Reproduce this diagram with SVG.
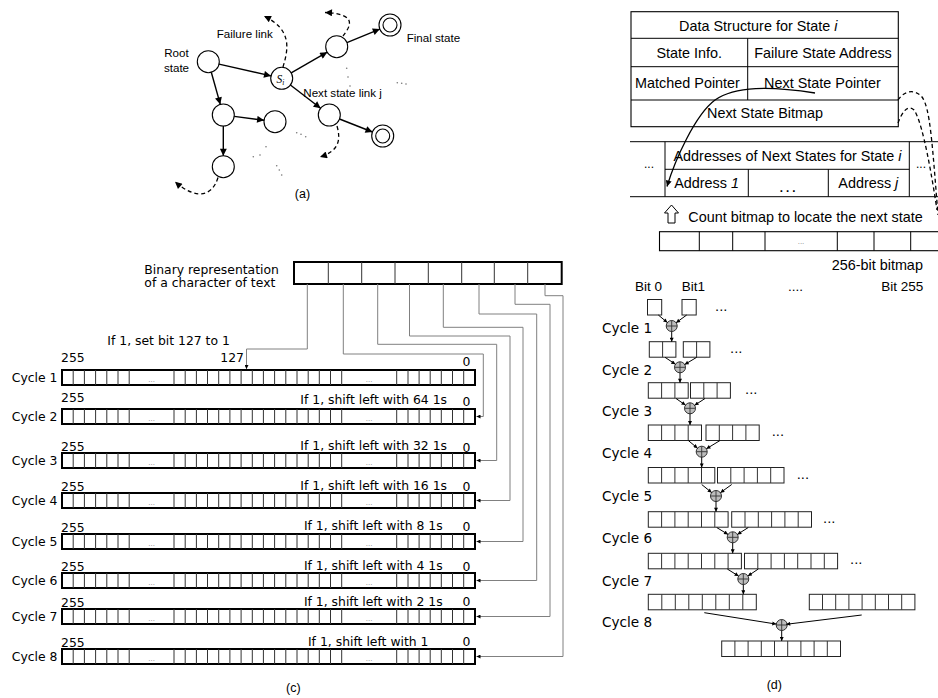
<svg xmlns="http://www.w3.org/2000/svg" width="938" height="698" viewBox="0 0 938 698">
<style>
.sans{font-family:"Liberation Sans",Arial,sans-serif;fill:#000}
.dv{font-family:"DejaVu Sans",Verdana,sans-serif;fill:#000}
.a{font-size:11.6px}
.b{font-size:14.4px}
.c{font-size:12.4px}
.d{font-size:13.6px}
.bit{font-size:13.5px}
.dots{font-family:"DejaVu Sans",sans-serif;font-size:7px;fill:#888}
.st{fill:none;stroke:#000;stroke-width:1.4}
.ds{fill:none;stroke:#000;stroke-width:1.3;stroke-dasharray:4 3}
.node{fill:#fff;stroke:#000;stroke-width:1.1}
.wire{fill:none;stroke:#808080;stroke-width:1}
.div{stroke:#333;stroke-width:1;fill:none}
.cell{fill:#fff;stroke:#222;stroke-width:1}
.thin{fill:none;stroke:#000;stroke-width:1}
.dot{fill:#777}
</style>
<defs>
<marker id="arrA" viewBox="0 0 10 10" refX="10" refY="5" markerWidth="9" markerHeight="7" markerUnits="userSpaceOnUse" orient="auto"><path d="M0,0L10,5L0,10z" fill="#000"/></marker>
<marker id="arrB" viewBox="0 0 10 10" refX="10" refY="5" markerWidth="8" markerHeight="6" markerUnits="userSpaceOnUse" orient="auto"><path d="M0,0L10,5L0,10z" fill="#000"/></marker>
<marker id="arrS" viewBox="0 0 10 10" refX="10" refY="5" markerWidth="5" markerHeight="4" markerUnits="userSpaceOnUse" orient="auto"><path d="M0,0L10,5L0,10z" fill="#000"/></marker>
<g id="bar">
<rect x="62" y="0" width="413" height="15" fill="#fff" stroke="#000" stroke-width="2"/>
<path class="div" d="M73.2 0v15M84.4 0v15M95.6 0v15M106.8 0v15M118 0v15M129.2 0v15M174 0v15M185.2 0v15M196.4 0v15M207.5 0v15M218.7 0v15M229.9 0v15M241.1 0v15M252.3 0v15M263.4 0v15M274.6 0v15M285.8 0v15M297 0v15M308.2 0v15M319.3 0v15M330.5 0v15M341.7 0v15M396.7 0v15M408 0v15M419.1 0v15M430.2 0v15M441.3 0v15M452.5 0v15M463.7 0v15"/>
</g>
<g id="xor"><circle r="5.5" fill="#bdbdbd" stroke="#333" stroke-width="1"/><path d="M-5.5 0H5.5M0 -5.5V5.5" stroke="#333" stroke-width="0.9"/></g>
</defs>
<rect width="938" height="698" fill="#fff"/>

<!-- ========== (a) ========== -->
<g id="panel-a">
<g id="a-root"><circle class="node" cx="208.3" cy="61.7" r="11"/></g>
<g id="a-si"><circle class="node" cx="281.7" cy="78.3" r="11"/><text x="276.5" y="82.5" style="font-family:'Liberation Serif','Times New Roman',serif;font-style:italic;font-size:11.5px">S<tspan font-size="7.5" dy="2">i</tspan></text></g>
<g id="a-ur"><circle class="node" cx="336.7" cy="46.7" r="11"/></g>
<g id="a-finaltop"><circle class="node" cx="390" cy="25" r="11"/><circle class="node" cx="390" cy="25" r="7"/></g>
<g id="a-nj"><circle class="node" cx="329.3" cy="115" r="11"/></g>
<g id="a-finalbot"><circle class="node" cx="382.7" cy="136" r="11"/><circle class="node" cx="382.7" cy="136" r="7"/></g>
<g id="a-lm"><circle class="node" cx="223.3" cy="115" r="11"/></g>
<g id="a-r2"><circle class="node" cx="275" cy="121.7" r="11"/></g>
<g id="a-bl"><circle class="node" cx="223.3" cy="166.7" r="11"/></g>
<g id="a-connectors">
<path class="st" d="M219 64.1L271 75.9" marker-end="url(#arrA)"/>
<path class="st" d="M291.2 72.8L327.2 52.2" marker-end="url(#arrA)"/>
<path class="st" d="M346.9 42.6L379.8 29.1" marker-end="url(#arrA)"/>
<path class="st" d="M290.4 85L320.6 108.3" marker-end="url(#arrA)"/>
<path class="st" d="M339.5 119L372.5 132" marker-end="url(#arrA)"/>
<path class="st" d="M211.3 72.3L220.3 104.4" marker-end="url(#arrA)"/>
<path class="st" d="M234.2 116.4L264.1 120.3" marker-end="url(#arrA)"/>
<path class="st" d="M223.3 126L223.3 155.7" marker-end="url(#arrA)"/>
<path class="ds" d="M283 67C288 50 293 30 264 16" marker-end="url(#arrA)"/>
<path class="ds" d="M343 36C349 28 360 14 325 12.5" marker-end="url(#arrA)"/>
<path class="ds" d="M337 126C341 140 339 151 320 157" marker-end="url(#arrA)"/>
<path class="ds" d="M218 177.5C212 197 196 200 175 181.7" marker-end="url(#arrA)"/>
</g>
<g id="a-dots">
<circle class="dot" cx="346.7" cy="68.3" r="0.8"/><circle class="dot" cx="348" cy="77" r="0.8"/><circle class="dot" cx="350" cy="86" r="0.8"/>
<circle class="dot" cx="397.3" cy="82.7" r="0.8"/><circle class="dot" cx="401.7" cy="83.3" r="0.8"/><circle class="dot" cx="406" cy="84" r="0.8"/>
<circle class="dot" cx="296.7" cy="132.7" r="0.8"/><circle class="dot" cx="301" cy="134.3" r="0.8"/><circle class="dot" cx="305.7" cy="136.7" r="0.8"/>
<circle class="dot" cx="253.3" cy="156.7" r="0.8"/><circle class="dot" cx="260" cy="155" r="0.8"/><circle class="dot" cx="266" cy="146.7" r="0.8"/>
<circle class="dot" cx="276.7" cy="165.7" r="0.8"/><circle class="dot" cx="279.3" cy="170" r="0.8"/><circle class="dot" cx="281.7" cy="175" r="0.8"/>
</g>
<text class="sans a" x="176.5" y="57" text-anchor="middle">Root</text>
<text class="sans a" x="176.5" y="71.5" text-anchor="middle">state</text>
<text class="sans a" x="216.7" y="38">Failure link</text>
<text class="sans a" x="406.7" y="41.5">Final state</text>
<text class="sans a" x="303.3" y="97">Next state link j</text>
<text class="sans" font-size="12.5" x="302.5" y="198" text-anchor="middle">(a)</text>
</g>

<!-- ========== (b) ========== -->
<g id="panel-b">
<g id="b-struct">
<rect x="631" y="11.7" width="267.3" height="115" fill="#fff" stroke="#000" stroke-width="1.1"/>
<path class="thin" d="M631 38.3H898.3M631 66.7H898.3M631 100H898.3M747.7 38.3V100"/>
<text class="sans b" x="758.3" y="30.5" text-anchor="middle">Data Structure for State <tspan font-style="italic">i</tspan></text>
<text class="sans b" x="689.3" y="57.5" text-anchor="middle">State Info.</text>
<text class="sans b" x="823" y="57.5" text-anchor="middle">Failure State Address</text>
<text class="sans b" x="687.5" y="88.3" text-anchor="middle">Matched Pointer</text>
<text class="sans b" x="822.5" y="88.3" text-anchor="middle">Next State Pointer</text>
<text class="sans b" x="765" y="118.3" text-anchor="middle">Next State Bitmap</text>
</g>
<g id="b-addresses">
<path class="thin" d="M630 141.7H938M630 196.7H938M665 141.7V196.7M909.3 141.7V196.7M665 169.3H909.3M748.3 169.3V196.7M828.3 169.3V196.7"/>
<text class="sans" font-size="12" x="649" y="168" text-anchor="middle">...</text>
<text class="sans" font-size="12" x="921" y="168" text-anchor="middle">...</text>
<text class="sans b" x="787.5" y="160.5" text-anchor="middle">Addresses of Next States for State <tspan font-style="italic">i</tspan></text>
<text class="sans b" x="706.6" y="188" text-anchor="middle">Address <tspan font-style="italic">1</tspan></text>
<text class="sans" font-size="17" letter-spacing="1.5" x="788.3" y="191.5" text-anchor="middle">...</text>
<text class="sans b" x="868.3" y="188" text-anchor="middle">Address <tspan font-style="italic">j</tspan></text>
</g>
<g id="b-count">
<polygon points="668,223 668,213 664.5,213 671.5,205 678.5,213 675,213 675,223" fill="#fff" stroke="#000" stroke-width="1"/>
<text class="sans b" x="688.3" y="221.7">Count bitmap to locate the next state</text>
</g>
<g id="b-bitmap">
<rect x="659.5" y="231.7" width="290" height="19" fill="#fff" stroke="#000" stroke-width="1.1"/>
<path class="thin" d="M699.3 231.7V250.7M732.7 231.7V250.7M765 231.7V250.7M837.3 231.7V250.7M874 231.7V250.7M910.7 231.7V250.7"/>
<text class="dots" x="801" y="244" text-anchor="middle">...</text>
<text class="sans b" x="831.7" y="269.5">256-bit bitmap</text>
</g>
<g id="b-connectors">
<path fill="none" stroke="#000" stroke-width="1.3" d="M815 93C770 86 735 86 715 100C695 115 675 160 667 186.5" marker-end="url(#arrB)"/>
<path class="ds" stroke-width="1.1" d="M898 100C905 90 915 89 922 97C930 108 932 140 938 215"/>
<path class="ds" stroke-width="1.1" d="M898 123C902 112 908 104 914 110C920 118 928 150 937 210"/>
</g>
</g>

<!-- ========== (c) ========== -->
<g id="panel-c">
<g id="c-byte">
<rect x="294" y="262" width="267.7" height="22" fill="#fff" stroke="#000" stroke-width="2"/>
<path class="div" stroke="#666" d="M328.3 262V284M361.7 262V284M395 262V284M428.3 262V284M461.7 262V284M494.3 262V284M527.7 262V284"/>
<text class="dv c" x="144.3" y="273.5">Binary representation</text>
<text class="dv c" x="144.3" y="287">of a character of text</text>
</g>
<g id="c-cycle1"><use href="#bar" y="370"/><text class="dots" x="151.6" y="381.5" text-anchor="middle">...</text><text class="dots" x="369.2" y="381.5" text-anchor="middle">...</text>
<text class="dv c" x="57.5" y="382" text-anchor="end">Cycle 1</text><text class="dv c" x="61" y="361.5">255</text><text class="dv c" x="466.5" y="366" text-anchor="middle">0</text>
<text class="dv c" x="107.3" y="344.5">If 1, set bit 127 to 1</text><text class="dv c" x="244" y="361.7" text-anchor="end">127</text></g>
<g id="c-cycle2"><use href="#bar" y="409"/><text class="dots" x="151.6" y="420.5" text-anchor="middle">...</text><text class="dots" x="369.2" y="420.5" text-anchor="middle">...</text>
<text class="dv c" x="57.5" y="421" text-anchor="end">Cycle 2</text><text class="dv c" x="61" y="402">255</text><text class="dv c" x="466.5" y="405.5" text-anchor="middle">0</text>
<text class="dv c" x="447" y="404" text-anchor="end">If 1, shift left with 64 1s</text></g>
<g id="c-cycle3"><use href="#bar" y="453"/><text class="dots" x="151.6" y="464.5" text-anchor="middle">...</text><text class="dots" x="369.2" y="464.5" text-anchor="middle">...</text>
<text class="dv c" x="57.5" y="465" text-anchor="end">Cycle 3</text><text class="dv c" x="61" y="450.5">255</text><text class="dv c" x="466.5" y="451.5" text-anchor="middle">0</text>
<text class="dv c" x="447" y="450" text-anchor="end">If 1, shift left with 32 1s</text></g>
<g id="c-cycle4"><use href="#bar" y="493"/><text class="dots" x="151.6" y="504.5" text-anchor="middle">...</text><text class="dots" x="369.2" y="504.5" text-anchor="middle">...</text>
<text class="dv c" x="57.5" y="505" text-anchor="end">Cycle 4</text><text class="dv c" x="61" y="490.5">255</text><text class="dv c" x="466.5" y="491" text-anchor="middle">0</text>
<text class="dv c" x="447" y="489.5" text-anchor="end">If 1, shift left with 16 1s</text></g>
<g id="c-cycle5"><use href="#bar" y="534"/><text class="dots" x="151.6" y="545.5" text-anchor="middle">...</text><text class="dots" x="369.2" y="545.5" text-anchor="middle">...</text>
<text class="dv c" x="57.5" y="546" text-anchor="end">Cycle 5</text><text class="dv c" x="61" y="532">255</text><text class="dv c" x="466.5" y="531" text-anchor="middle">0</text>
<text class="dv c" x="442.7" y="530" text-anchor="end">If 1, shift left with 8 1s</text></g>
<g id="c-cycle6"><use href="#bar" y="573"/><text class="dots" x="151.6" y="584.5" text-anchor="middle">...</text><text class="dots" x="369.2" y="584.5" text-anchor="middle">...</text>
<text class="dv c" x="57.5" y="585" text-anchor="end">Cycle 6</text><text class="dv c" x="61" y="570.5">255</text><text class="dv c" x="466.5" y="570.5" text-anchor="middle">0</text>
<text class="dv c" x="442.7" y="570" text-anchor="end">If 1, shift left with 4 1s</text></g>
<g id="c-cycle7"><use href="#bar" y="609"/><text class="dots" x="151.6" y="620.5" text-anchor="middle">...</text><text class="dots" x="369.2" y="620.5" text-anchor="middle">...</text>
<text class="dv c" x="57.5" y="621" text-anchor="end">Cycle 7</text><text class="dv c" x="61" y="606.5">255</text><text class="dv c" x="466.5" y="606" text-anchor="middle">0</text>
<text class="dv c" x="442.7" y="605.5" text-anchor="end">If 1, shift left with 2 1s</text></g>
<g id="c-cycle8"><use href="#bar" y="649"/><text class="dots" x="151.6" y="660.5" text-anchor="middle">...</text><text class="dots" x="369.2" y="660.5" text-anchor="middle">...</text>
<text class="dv c" x="57.5" y="661" text-anchor="end">Cycle 8</text><text class="dv c" x="61" y="646.5">255</text><text class="dv c" x="466.5" y="646" text-anchor="middle">0</text>
<text class="dv c" x="428.5" y="645.5" text-anchor="end">If 1, shift left with 1</text></g>
<g id="c-connectors">
<path class="wire" d="M307.3 284V349H246.5V369" marker-end="url(#arrS)"/>
<path class="wire" d="M343.3 284V354H483.3V416.5H476.5" marker-end="url(#arrS)"/>
<path class="wire" d="M377.7 284V344.3H496.7V460.5H476.5" marker-end="url(#arrS)"/>
<path class="wire" d="M409.5 284V336H510V500.5H476.5" marker-end="url(#arrS)"/>
<path class="wire" d="M443.3 284V327.3H523V541.5H476.5" marker-end="url(#arrS)"/>
<path class="wire" d="M479 284V314H536.7V580.5H476.5" marker-end="url(#arrS)"/>
<path class="wire" d="M515 284V304.3H550V616.5H476.5" marker-end="url(#arrS)"/>
<path class="wire" d="M545 284V295.7H563V656.5H476.5" marker-end="url(#arrS)"/>
</g>
<text class="sans" font-size="12.5" x="293.3" y="692" text-anchor="middle">(c)</text>
</g>

<!-- ========== (d) ========== -->
<g id="panel-d">
<g id="d-header">
<text class="sans bit" x="635" y="290.7">Bit 0</text>
<text class="sans bit" x="681.7" y="290.7">Bit1</text>
<text class="sans bit" x="788" y="290.7">....</text>
<text class="sans bit" x="923.3" y="290.7" text-anchor="end">Bit 255</text>
</g>
<g id="d-row0">
<rect class="cell" x="647.5" y="299.5" width="14.2" height="15.5"/><rect class="cell" x="682" y="299.5" width="14.2" height="15.5"/>
<text class="dv" font-size="13" x="715" y="310.5">...</text>
</g>
<g id="d-row1">
<rect class="cell" x="649.3" y="341.7" width="26.6" height="15.5"/><rect class="cell" x="683.3" y="341.7" width="26.6" height="15.5"/>
<path class="div" d="M662.6 341.7v15.5M696.6 341.7v15.5"/>
<text class="dv" font-size="13" x="730" y="352.5">...</text>
<text class="dv d" x="602" y="333">Cycle 1</text>
</g>
<g id="d-row2">
<rect class="cell" x="648.3" y="382.7" width="39.9" height="15.5"/><rect class="cell" x="690.5" y="382.7" width="39.9" height="15.5"/>
<path class="div" d="M661.6 382.7v15.5M674.9 382.7v15.5M703.8 382.7v15.5M717.1 382.7v15.5"/>
<text class="dv" font-size="13" x="745" y="393.5">...</text>
<text class="dv d" x="602" y="374.5">Cycle 2</text>
</g>
<g id="d-row3">
<rect class="cell" x="648.3" y="425" width="53.2" height="15.5"/><rect class="cell" x="706" y="425" width="53.2" height="15.5"/>
<path class="div" d="M661.6 425v15.5M674.9 425v15.5M688.2 425v15.5M719.3 425v15.5M732.6 425v15.5M745.9 425v15.5"/>
<text class="dv" font-size="13" x="771.7" y="436">...</text>
<text class="dv d" x="602" y="416">Cycle 3</text>
</g>
<g id="d-row4">
<rect class="cell" x="648.3" y="467.5" width="66.5" height="15.5"/><rect class="cell" x="717.5" y="467.5" width="66.5" height="15.5"/>
<path class="div" d="M661.6 467.5v15.5M674.9 467.5v15.5M688.2 467.5v15.5M701.5 467.5v15.5M730.8 467.5v15.5M744.1 467.5v15.5M757.4 467.5v15.5M770.7 467.5v15.5"/>
<text class="dv" font-size="13" x="796.7" y="478.5">...</text>
<text class="dv d" x="602" y="457.5">Cycle 4</text>
</g>
<g id="d-row5">
<rect class="cell" x="648.3" y="511.7" width="79.8" height="15.5"/><rect class="cell" x="731.7" y="511.7" width="79.8" height="15.5"/>
<path class="div" d="M661.6 511.7v15.5M674.9 511.7v15.5M688.2 511.7v15.5M701.5 511.7v15.5M714.8 511.7v15.5M745 511.7v15.5M758.3 511.7v15.5M771.6 511.7v15.5M784.9 511.7v15.5M798.2 511.7v15.5"/>
<text class="dv" font-size="13" x="823" y="522.5">...</text>
<text class="dv d" x="602" y="500.5">Cycle 5</text>
</g>
<g id="d-row6">
<rect class="cell" x="648.3" y="553.3" width="93.1" height="15.5"/><rect class="cell" x="744.5" y="553.3" width="93.1" height="15.5"/>
<path class="div" d="M661.6 553.3v15.5M674.9 553.3v15.5M688.2 553.3v15.5M701.5 553.3v15.5M714.8 553.3v15.5M728.1 553.3v15.5M757.8 553.3v15.5M771.1 553.3v15.5M784.4 553.3v15.5M797.7 553.3v15.5M811 553.3v15.5M824.3 553.3v15.5"/>
<text class="dv" font-size="13" x="850" y="564">...</text>
<text class="dv d" x="602" y="543">Cycle 6</text>
</g>
<g id="d-row7">
<rect class="cell" x="648.3" y="594.3" width="108" height="15.5"/><rect class="cell" x="809.3" y="594.3" width="105.6" height="15.5"/>
<path class="div" d="M661.8 594.3v15.5M675.3 594.3v15.5M688.8 594.3v15.5M702.3 594.3v15.5M715.8 594.3v15.5M729.3 594.3v15.5M742.8 594.3v15.5M822.5 594.3v15.5M835.7 594.3v15.5M848.9 594.3v15.5M862.1 594.3v15.5M875.3 594.3v15.5M888.5 594.3v15.5M901.7 594.3v15.5"/>
<text class="dv d" x="602" y="586">Cycle 7</text>
</g>
<g id="d-row8">
<rect class="cell" x="721.7" y="641" width="118.8" height="15.5"/>
<path class="div" d="M734.9 641v15.5M748.1 641v15.5M761.3 641v15.5M774.5 641v15.5M787.7 641v15.5M800.9 641v15.5M814.1 641v15.5M827.3 641v15.5"/>
<text class="dv d" x="602" y="626.5">Cycle 8</text>
</g>
<g id="d-xors">
<use href="#xor" x="671.7" y="326"/>
<use href="#xor" x="680" y="367.3"/>
<use href="#xor" x="690" y="408.3"/>
<use href="#xor" x="701.7" y="451.7"/>
<use href="#xor" x="716" y="496"/>
<use href="#xor" x="732.7" y="537.3"/>
<use href="#xor" x="743.3" y="579"/>
<use href="#xor" x="781.7" y="625"/>
</g>
<g id="d-connectors" fill="none" stroke="#000" stroke-width="1">
<path d="M658.3 315L667.4 322.5" marker-end="url(#arrS)"/><path d="M686.7 315L676.1 322.7" marker-end="url(#arrS)"/><path d="M671.7 331.5V341.7" marker-end="url(#arrS)"/>
<path d="M665 357.3L675.4 364.2" marker-end="url(#arrS)"/><path d="M696.7 357.3L684.7 364.5" marker-end="url(#arrS)"/><path d="M680 372.8V382.7" marker-end="url(#arrS)"/>
<path d="M676 398.5L685.5 405.1" marker-end="url(#arrS)"/><path d="M705 398.5L694.6 405.3" marker-end="url(#arrS)"/><path d="M690 413.8V425" marker-end="url(#arrS)"/>
<path d="M688.3 440.5L697.5 448.2" marker-end="url(#arrS)"/><path d="M720 440.5L706.4 448.8" marker-end="url(#arrS)"/><path d="M701.7 457.2V467.5" marker-end="url(#arrS)"/>
<path d="M701.7 484.5L711.7 492.6" marker-end="url(#arrS)"/><path d="M731.7 484.5L720.4 492.7" marker-end="url(#arrS)"/><path d="M716 501.5V511.7" marker-end="url(#arrS)"/>
<path d="M716.7 527.5L728 534.4" marker-end="url(#arrS)"/><path d="M748.3 527.5L737.4 534.4" marker-end="url(#arrS)"/><path d="M732.7 542.8V553.3" marker-end="url(#arrS)"/>
<path d="M727.3 569L738.6 576.1" marker-end="url(#arrS)"/><path d="M758.3 569L747.9 576" marker-end="url(#arrS)"/><path d="M743.3 584.5V594.3" marker-end="url(#arrS)"/>
<path d="M704.3 612.7L776.3 624.1" marker-end="url(#arrS)"/><path d="M861.7 615L786.2 624.3" marker-end="url(#arrS)"/><path d="M781.7 630.5V641" marker-end="url(#arrS)"/>
</g>
<text class="sans" font-size="12.5" x="774.3" y="688.5" text-anchor="middle">(d)</text>
</g>
</svg>
